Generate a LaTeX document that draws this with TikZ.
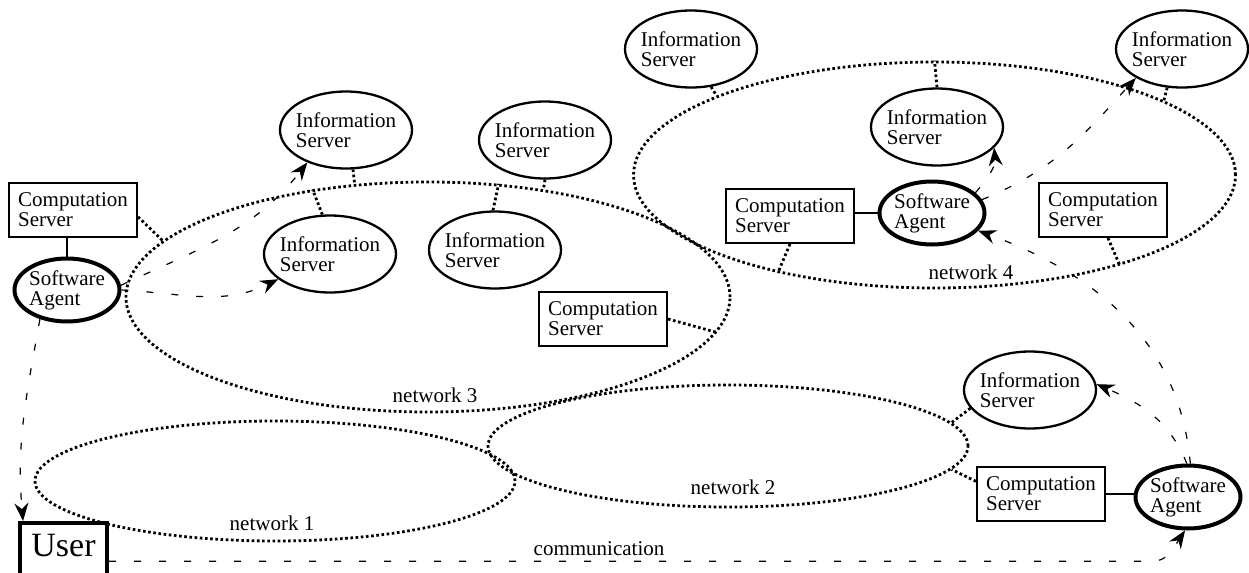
\documentclass[tikz,border=0pt]{standalone}
\usepackage{fontspec}
\setmainfont{Liberation Serif}
\usetikzlibrary{shapes.geometric,arrows.meta,calc}
\begin{document}
\begin{tikzpicture}[x=0.5pt,y=-0.5pt,
  txt/.style={font=\fontsize{10.5}{10}\selectfont, align=left},
  net/.style={draw, ellipse, inner sep=0pt, line width=1.4pt, dash pattern=on 1.3pt off 1.3pt},
  isv/.style={txt, draw, ellipse, line width=1.15pt, inner xsep=-4pt, inner ysep=0pt, minimum width=66pt, minimum height=38.5pt},
  agent/.style={txt, draw, ellipse, line width=2pt, inner xsep=-4pt, inner ysep=0pt, minimum width=52.5pt, minimum height=31.5pt},
  csv/.style={txt, draw, rectangle, line width=1pt, inner sep=0pt, minimum width=64pt, minimum height=27pt},
  userbox/.style={draw, rectangle, line width=2pt, inner sep=0pt, minimum width=43.5pt, minimum height=28.5pt},
  dotc/.style={line width=1.4pt, dash pattern=on 1.3pt off 1.3pt},
  solidc/.style={line width=1pt},
  comm/.style={line width=0.6pt, dash pattern=on 3.5pt off 9pt, -{Stealth[length=9pt,width=7pt,inset=3pt]}},
]
\useasboundingbox (0,0) rectangle (1249,573);

% networks
\node[net, minimum width=302pt, minimum height=115pt] (net3) at (428,297) {};
\node[net, minimum width=301pt, minimum height=113pt] (net4) at (934.5,175) {};
\node[net, minimum width=240pt, minimum height=61pt] (net2) at (728,446) {};
\node[net, minimum width=240pt, minimum height=60pt] (net1) at (275,481) {};
\node[txt] (l3) at (435,395) {network 3};
\node[txt] (l4) at (971,272) {network 4};
\node[txt] (l2) at (733,487) {network 2};
\node[txt] (l1) at (272,523) {network 1};

% information servers
\node[isv] (is1) at (346,130) {Information\\Server};
\node[isv] (is2) at (330,254) {Information\\Server};
\node[isv] (is3) at (545,140) {Information\\Server};
\node[isv] (is4) at (495,250) {Information\\Server};
\node[isv] (is5) at (691,49) {Information\\Server};
\node[isv] (is6) at (937,127) {Information\\Server};
\node[isv] (is7) at (1182,49) {Information\\Server};
\node[isv] (isbr) at (1030,390) {Information\\Server};

% computation servers
\node[csv] (cs1) at (73,210) {Computation\\Server};
\node[csv] (cs3) at (603,319) {Computation\\Server};
\node[csv] (cs4a) at (790,216) {Computation\\Server};
\node[csv] (cs4b) at (1103,210) {Computation\\Server};
\node[csv] (csbr) at (1041,494) {Computation\\Server};

% agents
\node[agent] (sa1) at (67,290) {Software\\Agent};
\node[agent] (sa4) at (932,213) {Software\\Agent};
\node[agent] (sabr) at (1188,497) {Software\\Agent};

% user
\node[userbox, label={[font=\fontsize{17}{17}\selectfont, yshift=3pt, name=usert]center:User}] (user) at (63.5,551.5) {};

% solid links
\draw[solidc] (sa1.north) -- (sa1.north |- cs1.south);
\draw[solidc] (sa4.west) -- (sa4.west -| cs4a.east);
\draw[solidc] (csbr.east) -- (csbr.east -| sabr.west);

% dotted links to networks
\draw[dotc] (is1.-80) -- (net3.123);
\draw[dotc] (is2.101) -- (net3.137);
\draw[dotc] (is3.south) -- (net3.43);
\draw[dotc] (is4.93) -- (net3.58);
\draw[dotc] (cs1.-6) -- (net3.168);
\draw[dotc] (cs3.east) -- (net3.-7);
\draw[dotc] (is5.-62) -- (net4.160);
\draw[dotc] (is6.north) -- (net4.north);
\draw[dotc] (is7.-111) -- (net4.18);
\draw[dotc] (cs4a.south) -- (net4.212);
\draw[dotc] (cs4b.-80) -- (net4.-26);
\draw[dotc] (isbr.197) -- (net2.6);
\draw[dotc] (csbr.169) -- (net2.-6);

% communication arrows
\draw[comm] (sa1.east) to[out=-3,in=206] (is2.206);
\draw[comm] (sa1.5) to[out=25,in=232] (is1.220);
\draw[comm] (sa1.227) to[out=260,in=95] (user.143);
\draw[comm] (user.-12) -- ++(1043,0) to[out=0,in=236] (sabr.265);
\draw[comm] (sabr.92) to[out=112,in=337] (isbr.5);
\draw[comm] (sabr.86) to[out=95,in=-20] (sa4.-21);
\draw[comm] (sa4.25) to[out=50,in=-85] (is6.-20);
\draw[comm] (sa4.15) to[out=22,in=228] (is7.212);
\node[txt] (lcomm) at (599,549) {communication};
\end{tikzpicture}
\end{document}
